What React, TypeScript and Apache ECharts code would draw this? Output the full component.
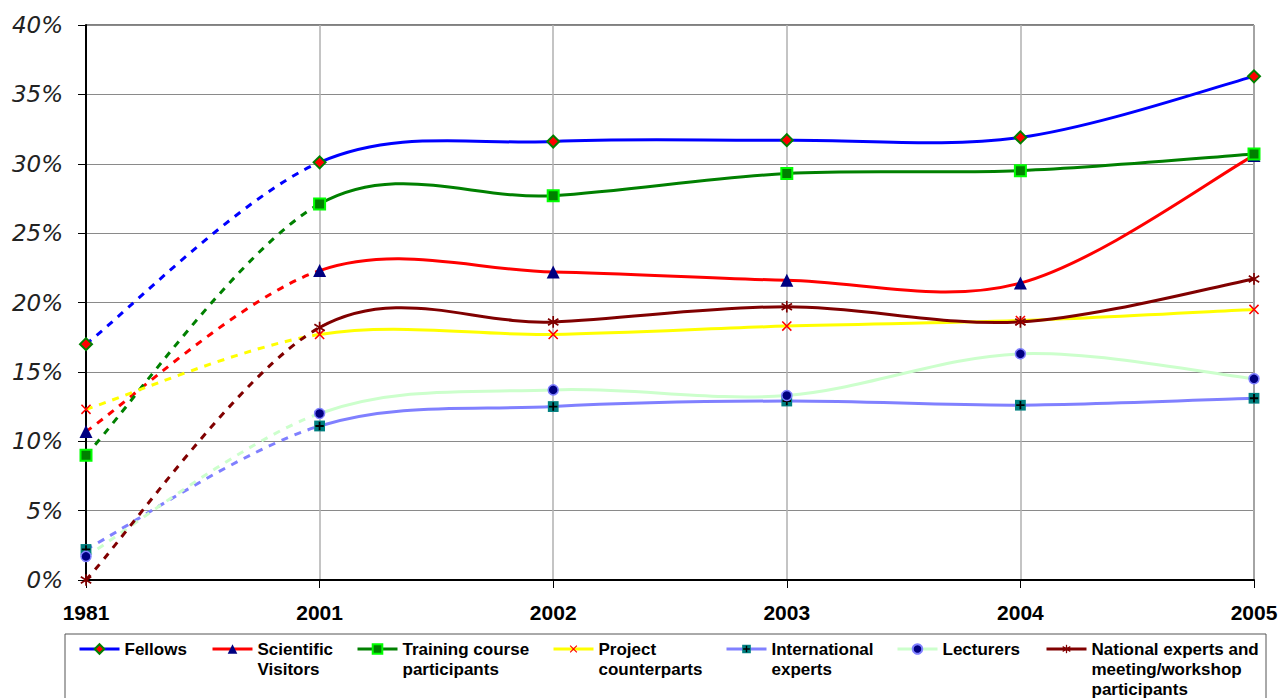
import React, { useEffect, useRef } from 'react';
import * as echarts from 'echarts';

const years = ['1981', '2001', '2002', '2003', '2004', '2005'];
const fellows = [17.0, 30.1, 31.6, 31.7, 31.9, 36.3];
const scientificVisitors = [10.7, 22.3, 22.2, 21.6, 21.4, 30.6];
const trainingCourse = [9.0, 27.1, 27.7, 29.3, 29.5, 30.7];
const projectCounterparts = [12.3, 17.7, 17.7, 18.3, 18.7, 19.5];
const internationalExperts = [2.2, 11.1, 12.5, 12.9, 12.6, 13.1];
const lecturers = [1.7, 12.0, 13.7, 13.3, 16.3, 14.5];
const nationalExperts = [0.0, 18.2, 18.6, 19.7, 18.6, 21.7];

const legendLabels = [
  'Fellows',
  'Scientific\nVisitors',
  'Training course\nparticipants',
  'Project\ncounterparts',
  'International\nexperts',
  'Lecturers',
  'National experts and\nmeeting/workshop\nparticipants',
];

const svgUri = (body: string) =>
  'image://data:image/svg+xml;charset=utf-8,' +
  encodeURIComponent(`<svg xmlns="http://www.w3.org/2000/svg" width="20" height="20" viewBox="0 0 20 20">${body}</svg>`);

const xSymbol = svgUri('<path d="M3 3L17 17M17 3L3 17" stroke="#FF0000" stroke-width="2.4" fill="none"/>');
const plusSquare = svgUri('<rect x="1" y="1" width="18" height="18" fill="#008080"/><path d="M10 3V17M3 10H17" stroke="#000" stroke-width="3" fill="none"/>');
const asterisk = svgUri('<path d="M10 1V19M2 5L18 15M18 5L2 15" stroke="#800000" stroke-width="2.6" fill="none"/>');

type Def = {
  name: string;
  values: number[];
  color: string;
  symbol: string;
  size: number;
  itemStyle: any;
  legendLeft: number;
};

const defs: Def[] = [
  { name: 'Fellows', values: fellows, color: '#0000FF', symbol: 'diamond', size: 12, itemStyle: { color: '#FF0000', borderColor: '#008000', borderWidth: 2 }, legendLeft: 78 },
  { name: 'Scientific Visitors', values: scientificVisitors, color: '#FF0000', symbol: 'triangle', size: 13, itemStyle: { color: '#000080' }, legendLeft: 211 },
  { name: 'Training course participants', values: trainingCourse, color: '#008000', symbol: 'rect', size: 11, itemStyle: { color: '#008000', borderColor: '#00FF00', borderWidth: 2 }, legendLeft: 356 },
  { name: 'Project counterparts', values: projectCounterparts, color: '#FFFF00', symbol: xSymbol, size: 13, itemStyle: { color: '#FF0000' }, legendLeft: 552 },
  { name: 'International experts', values: internationalExperts, color: '#8080FF', symbol: plusSquare, size: 12, itemStyle: { color: '#008080' }, legendLeft: 725 },
  { name: 'Lecturers', values: lecturers, color: '#CCFFCC', symbol: 'circle', size: 10, itemStyle: { color: '#000080', borderColor: '#8080FF', borderWidth: 1.5 }, legendLeft: 896 },
  { name: 'National experts and meeting/workshop participants', values: nationalExperts, color: '#800000', symbol: asterisk, size: 13, itemStyle: { color: '#800000' }, legendLeft: 1045 },
];

const T = 1 / 6;

function curveSeries(d: Def, idx: number) {
  const vals = d.values;
  return {
    type: 'custom',
    name: d.name + ' curve',
    silent: true,
    z: 2 + idx * 0.01,
    clip: false,
    data: vals.slice(0, -1).map((v, i) => [i, v]),
    renderItem: (params: any, api: any) => {
      const i = params.dataIndex;
      const pts = vals.map((v, k) => api.coord([k, v]));
      const p0 = pts[Math.max(i - 1, 0)];
      const p1 = pts[i];
      const p2 = pts[i + 1];
      const p3 = pts[Math.min(i + 2, pts.length - 1)];
      return {
        type: 'bezierCurve',
        shape: {
          x1: p1[0], y1: p1[1],
          x2: p2[0], y2: p2[1],
          cpx1: p1[0] + (p2[0] - p0[0]) * T,
          cpy1: p1[1] + (p2[1] - p0[1]) * T,
          cpx2: p2[0] - (p3[0] - p1[0]) * T,
          cpy2: p2[1] - (p3[1] - p1[1]) * T,
        },
        style: {
          stroke: d.color,
          lineWidth: 3,
          fill: null,
          lineDash: i === 0 ? [7, 7] : null,
        },
      };
    },
  };
}

function markerSeries(d: Def, idx: number) {
  return {
    type: 'line',
    name: d.name,
    data: d.values,
    symbol: d.symbol,
    symbolSize: d.size,
    showSymbol: true,
    itemStyle: d.itemStyle,
    lineStyle: { opacity: 0, width: 0, color: d.color },
    z: 10 + idx * 0.01,
    silent: true,
  };
}

const fontSans = '"Liberation Sans", Arial, sans-serif';

export default function App() {
  const ref = useRef<HTMLDivElement>(null);
  useEffect(() => {
    if (!ref.current) return;
    const chart = echarts.init(ref.current, undefined, { renderer: 'svg' });
    const legends = defs.map((d, i) => {
      const lines = legendLabels[i].split('\n');
      const blanks = new Array(lines.length - 1).fill('\u00A0');
      const text = [...blanks, ...lines].join('\n');
      const total = blanks.length + lines.length;
      const offset = (total * 20) / 2;
      return {
        data: [{ name: d.name, lineStyle: { color: d.color, width: 3, opacity: 1, type: 'solid' } }],
        left: d.legendLeft,
        top: 649 - offset,
        padding: 0,
        itemWidth: 40,
        itemHeight: 12,
        selectedMode: false,
        formatter: () => text,
        textStyle: {
          fontFamily: fontSans,
          fontWeight: 'bold',
          fontSize: 17,
          color: '#000',
          lineHeight: 20,
        },
      };
    });
    chart.setOption({
      animation: false,
      backgroundColor: '#fff',
      grid: {
        left: 86, top: 25, width: 1168, height: 555,
        show: true, borderColor: '#000', borderWidth: 1, backgroundColor: 'transparent',
        containLabel: false,
      },
      legend: legends,
      xAxis: {
        type: 'category',
        data: years,
        boundaryGap: false,
        axisLine: { show: true, lineStyle: { color: '#000', width: 2 } },
        axisTick: { show: true, length: 8, alignWithLabel: true, lineStyle: { color: '#000', width: 1 } },
        axisLabel: { fontFamily: fontSans, fontWeight: 'bold', fontSize: 21, color: '#000', margin: 22 },
        splitLine: { show: true, lineStyle: { color: '#b0b0b0', width: 1.5 } },
      },
      yAxis: {
        type: 'value',
        min: 0,
        max: 40,
        interval: 5,
        axisLine: { show: true, lineStyle: { color: '#000', width: 2 } },
        axisTick: { show: true, length: 8, lineStyle: { color: '#000', width: 1 } },
        axisLabel: { formatter: '{value}%', fontFamily: '"DejaVu Sans", Verdana, sans-serif', fontStyle: 'italic', fontSize: 23, color: '#222', margin: 23 },
        splitLine: { show: true, lineStyle: { color: '#8a8a8a', width: 1 } },
      },
      graphic: [
        {
          type: 'rect',
          shape: { x: 65, y: 634, width: 1201, height: 80 },
          style: { fill: 'none', stroke: '#555', lineWidth: 1 },
          silent: true,
          z: 0,
        },
      ],
      series: [
        ...defs.map((d, i) => curveSeries(d, i)),
        ...defs.map((d, i) => markerSeries(d, i)),
      ],
    });
    return () => chart.dispose();
  }, []);
  return <div ref={ref} style={{ position: 'fixed', left: 0, top: 0, width: 1283, height: 698 }} />;
}
